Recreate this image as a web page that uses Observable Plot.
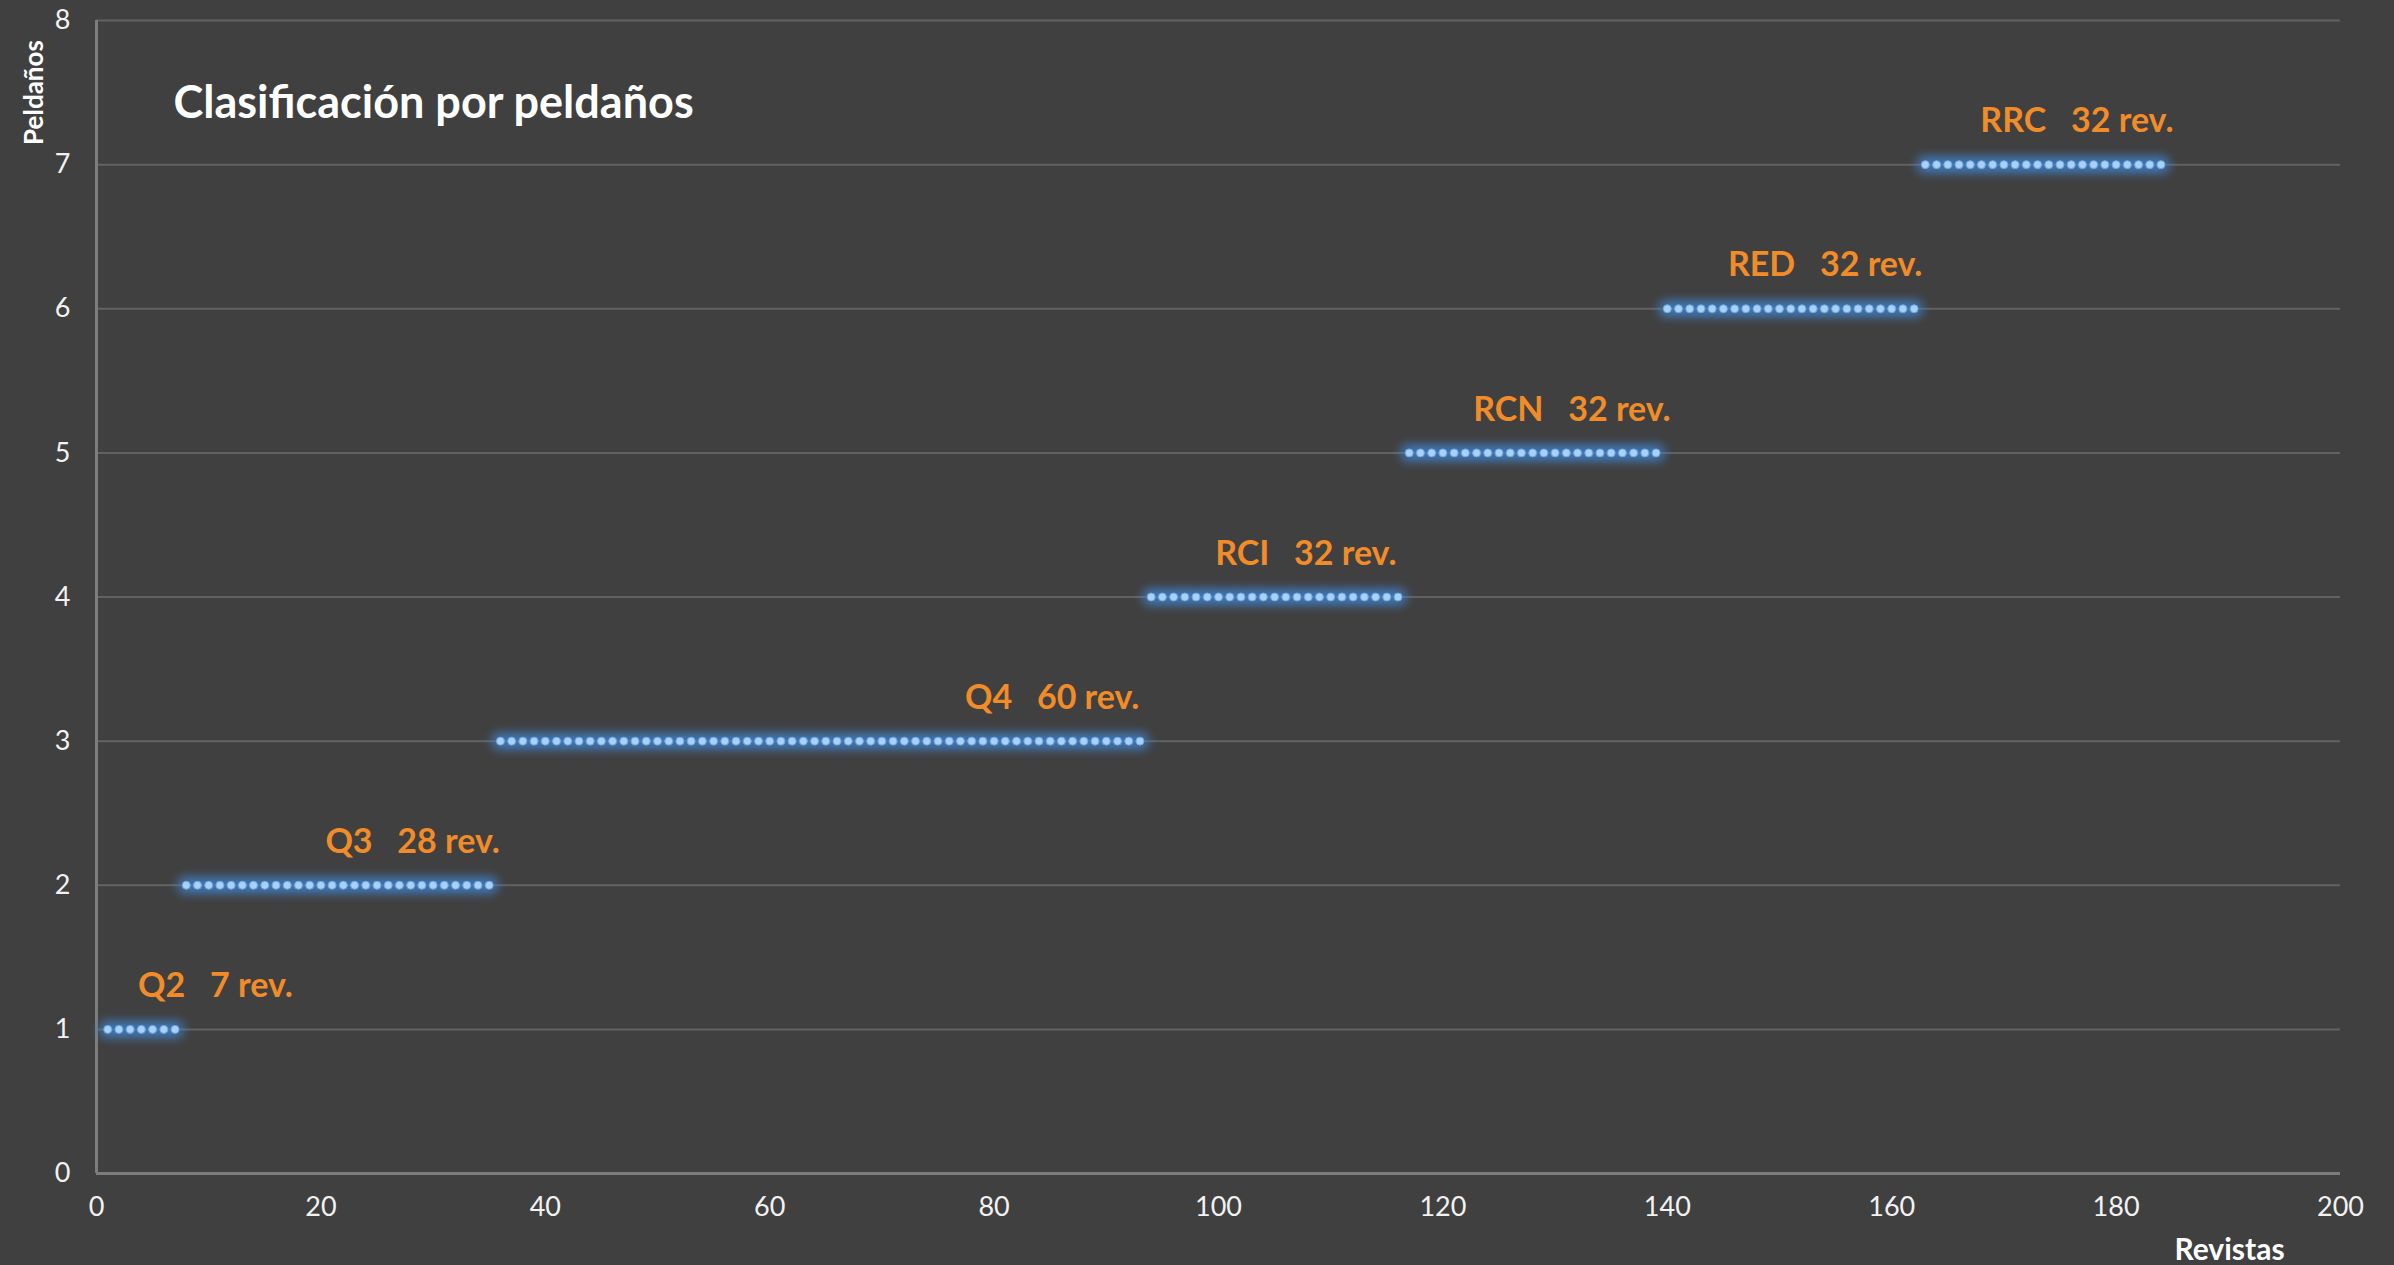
<!DOCTYPE html>
<html>
<head>
<meta charset="utf-8">
<script src="https://cdn.jsdelivr.net/npm/d3@7"></script>
<script src="https://cdn.jsdelivr.net/npm/@observablehq/plot@0.6"></script>
<style>
  html, body { margin: 0; padding: 0; background: #404040; }
  #chart { width: 2394px; height: 1265px; }
</style>
</head>
<body>
<div id="chart"></div>
<script>
// ---- data ----
const peldanos = [1, 2, 3, 4, 5, 6, 7];
const categorias = ["Q2", "Q3", "Q4", "RCI", "RCN", "RED", "RRC"];
const revistasDibujadas = [7, 28, 58, 23, 23, 23, 22];   // dots per step as drawn
const etiquetaRev = ["7 rev.", "28 rev.", "60 rev.", "32 rev.", "32 rev.", "32 rev.", "32 rev."];
const etiquetaX = [3.7, 20.4, 77.4, 99.7, 122.7, 145.4, 167.9];
const etiquetaY = [1.3, 2.3, 3.3, 4.3, 5.3, 6.3, 7.3];
const xTicks = [0, 20, 40, 60, 80, 100, 120, 140, 160, 180, 200];
const yTicks = [0, 1, 2, 3, 4, 5, 6, 7, 8];
const titulo = "Clasificación por peldaños";

// each journal is one point, numbered consecutively
const puntos = [];
let n = 0;
peldanos.forEach((p, i) => {
  for (let k = 0; k < revistasDibujadas[i]; k++) {
    n += 1;
    puntos.push({revista: n, peldano: p});
  }
});
const etiquetas = categorias.map((c, i) => ({
  texto: c + "\u00a0\u00a0\u00a0" + etiquetaRev[i],
  x: etiquetaX[i],
  y: etiquetaY[i]
}));

const font = "Lato, 'Open Sans', sans-serif";

const chart = Plot.plot({
  width: 2394,
  height: 1265,
  marginLeft: 96,
  marginRight: 54,
  marginTop: 20,
  marginBottom: 92,
  style: {background: "#404040", color: "#f2f2f2", fontFamily: font, fontSize: "27px"},
  x: {domain: [0, 200], label: null},
  y: {domain: [0, 8], label: null},
  marks: [
    Plot.gridY(yTicks.slice(1), {stroke: "#626262", strokeOpacity: 1, strokeWidth: 2}),
    Plot.ruleY([0], {stroke: "#7c7c7c", strokeWidth: 3}),
    Plot.ruleX([0], {stroke: "#7c7c7c", strokeWidth: 3}),
    Plot.axisX(xTicks, {tickSize: 0, tickPadding: 23, fontSize: 27, fill: "#f2f2f2", label: null,
      tickFormat: d => String(d)}),
    Plot.axisY(yTicks, {tickSize: 0, tickPadding: 26, fontSize: 27, fill: "#f2f2f2", label: null,
      tickFormat: d => String(d)}),
    // glow
    Plot.dot(puntos, {x: "revista", y: "peldano", r: 10, fill: "#3f86d4", fillOpacity: 0.6, stroke: "none"}),
    Plot.dot(puntos, {x: "revista", y: "peldano", r: 4, fill: "#a9d0f5", stroke: "#6aa6e0", strokeWidth: 1}),
    Plot.text(etiquetas, {x: "x", y: "y", text: "texto", textAnchor: "start", fill: "#f28c28",
      fontSize: 34, fontWeight: "bold"}),
    Plot.text([titulo], {frameAnchor: "top-left", dx: 77, dy: 66, textAnchor: "start",
      fill: "#ffffff", fontSize: 45, fontWeight: "bold"}),
    Plot.text(["Revistas"], {frameAnchor: "bottom-right", dx: -111, dy: 86, textAnchor: "middle",
      fill: "#ffffff", fontSize: 30, fontWeight: "bold"}),
    Plot.text(["Peldaños"], {frameAnchor: "top-left", dx: -72, dy: 72, rotate: -90, textAnchor: "middle",
      fill: "#ffffff", fontSize: 26, fontWeight: "bold"})
  ]
});

// soft glow filter behind the dots
const svg = d3.select(chart);
const defs = svg.insert("defs", ":first-child");
defs.append("filter").attr("id", "glow").attr("x", "-50%").attr("y", "-50%")
  .attr("width", "200%").attr("height", "200%")
  .append("feGaussianBlur").attr("stdDeviation", 4);
const dotGroups = svg.selectAll('g[aria-label="dot"]').nodes();
if (dotGroups.length) d3.select(dotGroups[0]).attr("filter", "url(#glow)");

document.getElementById("chart").appendChild(chart);
</script>
</body>
</html>
